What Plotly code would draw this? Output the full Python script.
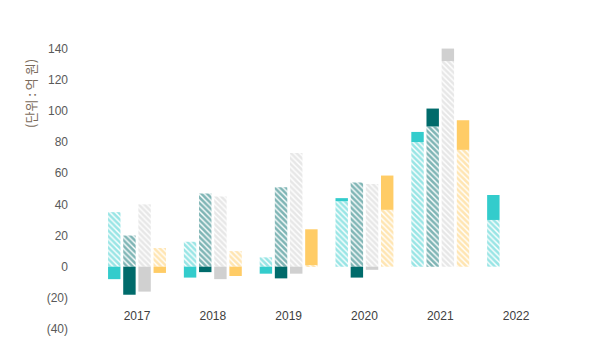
import plotly.graph_objects as go

years = ["2017", "2018", "2019", "2020", "2021", "2022"]
series_names = ["A", "B", "C", "D"]
colors = ["#33CCCC", "#006B6B", "#D0D0D0", "#FFCC66"]

# hatched part (from zero) and solid part (stacked on top if positive, below zero if negative)
hatch_a = [35, 16, 6, 42, 80, 30]
solid_a = [-8, -7, -4.5, 2, 6.5, 16]
hatch_b = [20, 47, 51, 54, 90, None]
solid_b = [-18, -3.5, -7.5, -7, 11.5, None]
hatch_c = [40, 45, 73, 53, 132, None]
solid_c = [-16, -8, -4.5, -2, 8, None]
hatch_d = [12, 10, 1, 36.5, 75, None]
solid_d = [-4, -6, 23, 22, 19, None]

ytick_vals = [140, 120, 100, 80, 60, 40, 20, 0, -20, -40]
ytick_text = ["140", "120", "100", "80", "60", "40", "20", "0", "(20)", "(40)"]
unit_label = "(단위 : 억 원)"

hatches = [hatch_a, hatch_b, hatch_c, hatch_d]
solids = [solid_a, solid_b, solid_c, solid_d]
xs = list(range(len(years)))

fig = go.Figure()
for i, (name, col) in enumerate(zip(series_names, colors)):
    h = hatches[i]
    s = solids[i]
    fig.add_trace(go.Bar(
        x=xs, y=h, base=[0 if v is not None else None for v in h],
        offsetgroup=str(i), name=name + " hatched",
        marker=dict(color="white", line=dict(width=0),
                    pattern=dict(shape="\\", fgcolor=col, bgcolor="white",
                                 size=4, solidity=0.65, fillmode="overlay")),
        showlegend=False, hoverinfo="skip"))
    bases = []
    for hv, sv in zip(h, s):
        if sv is None:
            bases.append(None)
        elif sv >= 0:
            bases.append(hv)
        else:
            bases.append(0)
    fig.add_trace(go.Bar(
        x=xs, y=s, base=bases, offsetgroup=str(i), name=name,
        marker=dict(color=col, line=dict(width=0)),
        showlegend=False))

ml, mr, mt, mb = 69, 35, 33, 25
fig.update_layout(
    width=589, height=354,
    margin=dict(l=ml, r=mr, t=mt, b=mb),
    paper_bgcolor="white", plot_bgcolor="white",
    barmode="group", bargap=0.2, bargroupgap=0.18,
    font=dict(family="Liberation Sans, Noto Sans CJK KR, sans-serif", size=12, color="#595959"),
    showlegend=False,
)
fig.update_xaxes(
    range=[-0.897, 5.5], tickvals=xs, ticktext=years,
    showgrid=False, zeroline=False, showline=False, ticks="",
    anchor="free", position=0.075,
    tickfont=dict(size=12, color="#404040"),
)
fig.update_yaxes(
    range=[-40, 150], tickvals=ytick_vals, ticktext=ytick_text,
    showgrid=False, zeroline=False, showline=False, ticks="",
    tickfont=dict(size=12, color="#595959"),
)
fig.add_annotation(
    text=unit_label, xref="paper", yref="paper", x=-0.08, y=0.795,
    showarrow=False, textangle=-90, xanchor="center", yanchor="middle",
    font=dict(size=13, color="#7a6a5a", family="Noto Sans CJK KR, sans-serif"),
)
fig.write_html("out.html")
